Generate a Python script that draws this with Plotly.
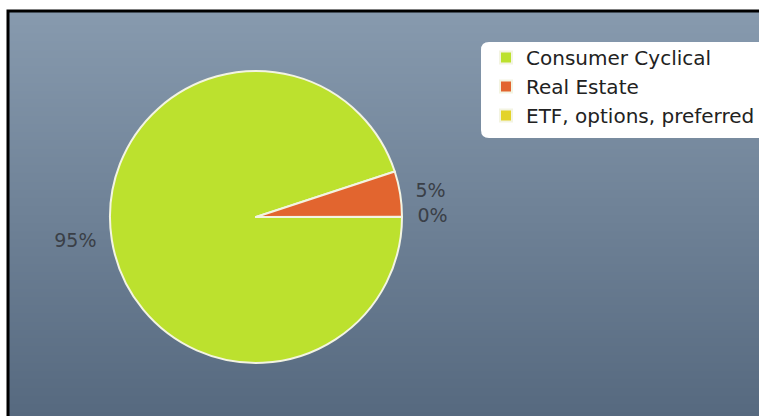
import plotly.graph_objects as go

# Data
labels = ["Consumer Cyclical", "Real Estate", "ETF, options, preferred"]
values = [95.0, 5.0, 0.04]
text_labels = ["95%", "5%", "0%"]
colors = ["#bce12e", "#e2652f", "#e3d32a"]

W, H = 759, 416

def px(x):
    return x / W

def py(y):
    return 1 - y / H

fig = go.Figure()

# smooth vertical gradient background via a heatmap on hidden axes
fig.add_trace(go.Heatmap(
    z=[[0, 0], [1, 1]],
    x=[0, 1], y=[0, 1],
    colorscale=[[0, "rgb(86,105,127)"], [1, "rgb(135,154,174)"]],
    zsmooth="best", showscale=False, hoverinfo="skip",
))

# main pie (slices)
fig.add_trace(go.Pie(
    labels=labels,
    values=values,
    textinfo="none",
    sort=False,
    direction="clockwise",
    rotation=90,
    marker=dict(colors=colors, line=dict(color="#f3f4e2", width=2)),
    domain=dict(x=[px(110), px(402)], y=[py(363), py(71)]),
    hoverinfo="label+percent",
))

# transparent slightly larger pie carrying the outside labels
fig.add_trace(go.Pie(
    labels=labels,
    values=values,
    text=text_labels,
    textinfo="text",
    textposition="outside",
    sort=False,
    direction="clockwise",
    rotation=90,
    showlegend=False,
    marker=dict(colors=["rgba(0,0,0,0)"] * 3, line=dict(width=0)),
    textfont=dict(family="DejaVu Sans", size=19, color="#3a3f47"),
    domain=dict(x=[px(100), px(412)], y=[py(371), py(59)]),
    hoverinfo="skip",
))

shapes = []
# black frame
shapes.append(dict(type="rect", xref="paper", yref="paper",
                   x0=px(8), x1=px(800), y0=py(450), y1=py(11),
                   line=dict(color="#000000", width=3), layer="above"))

# rounded legend box
x0b, x1b, y0b, y1b, r = 481, 800, 42, 138, 8
path = (f"M {px(x0b+r)},{py(y0b)} L {px(x1b)},{py(y0b)} L {px(x1b)},{py(y1b)} "
        f"L {px(x0b+r)},{py(y1b)} Q {px(x0b)},{py(y1b)} {px(x0b)},{py(y1b-r)} "
        f"L {px(x0b)},{py(y0b+r)} Q {px(x0b)},{py(y0b)} {px(x0b+r)},{py(y0b)} Z")
shapes.append(dict(type="path", xref="paper", yref="paper", path=path,
                   fillcolor="#ffffff", line=dict(width=0), layer="above"))

fig.update_layout(
    width=W, height=H,
    margin=dict(l=0, r=0, t=0, b=0, autoexpand=False),
    paper_bgcolor="#ffffff",
    plot_bgcolor="rgba(0,0,0,0)",
    xaxis=dict(domain=[px(9), 1], range=[0, 1], visible=False, fixedrange=True),
    yaxis=dict(domain=[0, py(12)], range=[0, 1], visible=False, fixedrange=True),
    shapes=shapes,
    showlegend=True,
    legend=dict(
        x=px(486), y=py(38), xanchor="left", yanchor="top",
        bgcolor="rgba(0,0,0,0)",
        font=dict(family="DejaVu Sans", size=20, color="#222222"),
        tracegroupgap=0,
        itemwidth=30,
    ),
)

fig.write_html("out.html", config={"displayModeBar": False},
               post_script="document.body.style.margin='0';document.body.style.overflow='hidden';")
